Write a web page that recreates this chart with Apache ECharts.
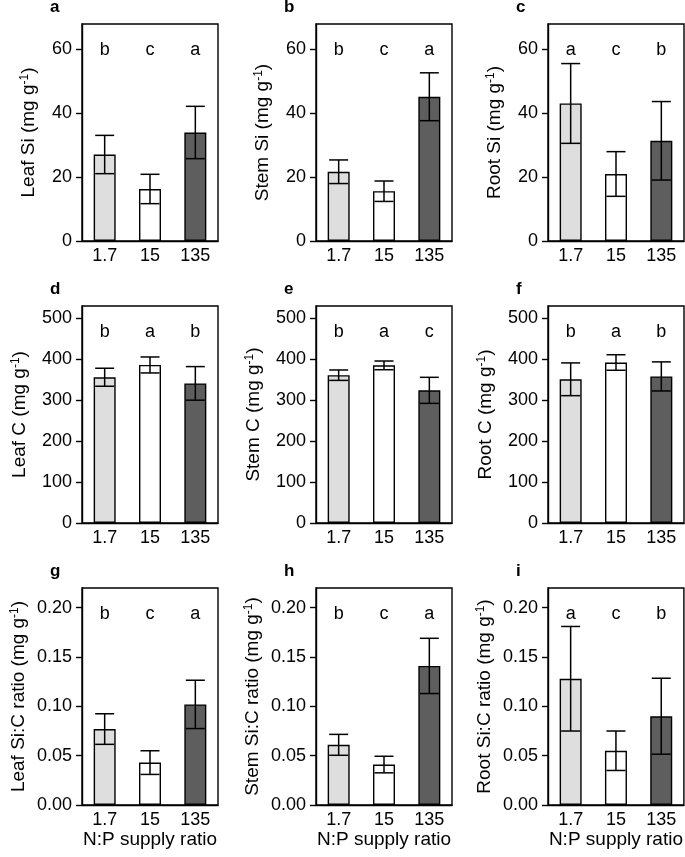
<!DOCTYPE html>
<html><head><meta charset="utf-8">
<script src="https://cdn.jsdelivr.net/npm/echarts@6/dist/echarts.min.js"></script>
<style>html,body{margin:0;padding:0;background:#fff}#c{width:685px;height:857px}</style>
</head><body><div id="c"></div>
<script>
// ---- data ----
const categories = ['1.7', '15', '135'];

const leafSi = [27.1, 16.3, 34.0];
const leafSiErr = [6.0, 4.6, 8.2];
const stemSi = [21.7, 15.6, 45.2];
const stemSiErr = [3.7, 3.2, 7.5];
const rootSi = [43.1, 21.0, 31.4];
const rootSiErr = [12.5, 7.0, 12.3];

const leafC = [356, 386, 341];
const leafCErr = [22, 19.5, 41];
const stemC = [361, 385, 324];
const stemCErr = [12.7, 10.6, 31.8];
const rootC = [351, 392, 358];
const rootCErr = [40, 19, 35.5];

const leafSiC = [0.077, 0.043, 0.102];
const leafSiCErr = [0.0155, 0.012, 0.0245];
const stemSiC = [0.061, 0.041, 0.141];
const stemSiCErr = [0.0106, 0.0084, 0.028];
const rootSiC = [0.128, 0.055, 0.090];
const rootSiCErr = [0.053, 0.020, 0.0385];

const lettersA = ['b', 'c', 'a'];
const lettersB = ['b', 'c', 'a'];
const lettersC = ['a', 'c', 'b'];
const lettersD = ['b', 'a', 'b'];
const lettersE = ['b', 'a', 'c'];
const lettersF = ['b', 'a', 'b'];
const lettersG = ['b', 'c', 'a'];
const lettersH = ['b', 'c', 'a'];
const lettersI = ['a', 'c', 'b'];

const panelLabels = ['a', 'b', 'c', 'd', 'e', 'f', 'g', 'h', 'i'];
const yNames = ['Leaf Si', 'Stem Si', 'Root Si', 'Leaf C', 'Stem C', 'Root C',
  'Leaf Si:C ratio', 'Stem Si:C ratio', 'Root Si:C ratio'];
const xName = 'N:P supply ratio';

const ticksSi = [0, 20, 40, 60];
const ticksC = [0, 100, 200, 300, 400, 500];
const ticksRatio = [0, 0.05, 0.10, 0.15, 0.20];
const maxSi = 68, maxC = 530, maxRatio = 0.22;

// ---- layout & style ----
const FONT = '"Liberation Sans", Arial, Helvetica, sans-serif';
const fills = ['#dedede', '#ffffff', '#5e5e5e'];
const colLeft = [82, 316, 548];
const rowTop = [24, 306, 588];
const W = 136, H = 217;
const rowCfg = [
  { max: maxSi, ticks: ticksSi, dec: 0, gap: 44 },
  { max: maxC, ticks: ticksC, dec: 0, gap: 53 },
  { max: maxRatio, ticks: ticksRatio, dec: 2, gap: 54 }
];
const means = [leafSi, stemSi, rootSi, leafC, stemC, rootC, leafSiC, stemSiC, rootSiC];
const errs = [leafSiErr, stemSiErr, rootSiErr, leafCErr, stemCErr, rootCErr, leafSiCErr, stemSiCErr, rootSiCErr];
const letters = [lettersA, lettersB, lettersC, lettersD, lettersE, lettersF, lettersG, lettersH, lettersI];

const grids = [], xAxes = [], yAxes = [], series = [], titles = [];

for (let p = 0; p < 9; p++) {
  const r = Math.floor(p / 3), c = p % 3;
  const cfg = rowCfg[r];
  grids.push({ left: colLeft[c], top: rowTop[r], width: W, height: H, show: true,
    borderColor: '#000', borderWidth: 1.4, backgroundColor: 'transparent', containLabel: false });
  titles.push({ text: panelLabels[p], left: colLeft[c] - 32, top: rowTop[r] - 25, padding: 0,
    textStyle: { fontFamily: FONT, fontWeight: 'bold', fontSize: 17, color: '#000' } });
  xAxes.push({
    gridIndex: p, type: 'category', data: categories,
    axisLine: { show: true, lineStyle: { color: '#000', width: 1.4 } },
    axisTick: { show: false },
    axisLabel: { color: '#000', fontFamily: FONT, fontSize: 18, margin: 6 },
    name: r === 2 ? xName : '', nameLocation: 'middle', nameGap: 25,
    nameTextStyle: { color: '#000', fontFamily: FONT, fontSize: 19 },
    splitLine: { show: false }
  });
  yAxes.push({
    gridIndex: p, type: 'value', min: 0, max: cfg.max,
    axisLine: { show: true, lineStyle: { color: '#000', width: 1.4 } },
    axisTick: { show: true, length: 6, inside: false, customValues: cfg.ticks, lineStyle: { color: '#000', width: 1.4 } },
    axisLabel: { color: '#000', fontFamily: FONT, fontSize: 18, margin: 10, customValues: cfg.ticks,
      formatter: v => v.toFixed(cfg.dec) },
    splitLine: { show: false },
    name: yNames[p] + ' (mg g{sup|-1})', nameLocation: 'middle', nameRotate: 90, nameGap: cfg.gap,
    nameTextStyle: { color: '#000', fontFamily: FONT, fontSize: 19,
      rich: { sup: { fontSize: 12, fontFamily: FONT, color: '#000', verticalAlign: 'top' } } }
  });
  const m = means[p], e = errs[p], L = letters[p];
  series.push({
    type: 'bar', xAxisIndex: p, yAxisIndex: p, barWidth: 22, z: 2,
    data: m.map((v, i) => ({ value: v, itemStyle: { color: fills[i] } })),
    itemStyle: { borderColor: '#000', borderWidth: 1.4 },
    emphasis: { disabled: true }, animation: false
  });
  series.push({
    type: 'custom', xAxisIndex: p, yAxisIndex: p, z: 5, animation: false,
    data: m.map((v, i) => [i, v, e[i]]),
    encode: { x: 0, y: 1 },
    renderItem: (params, api) => {
      const x = api.value(0), mv = api.value(1), ev = api.value(2);
      const top = api.coord([x, mv + ev]), bot = api.coord([x, mv - ev]);
      const hw = 9.5;
      const st = { stroke: '#000', lineWidth: 1.5 };
      return { type: 'group', children: [
        { type: 'line', shape: { x1: top[0], y1: top[1], x2: bot[0], y2: bot[1] }, style: st },
        { type: 'line', shape: { x1: top[0] - hw, y1: top[1], x2: top[0] + hw, y2: top[1] }, style: st },
        { type: 'line', shape: { x1: bot[0] - hw, y1: bot[1], x2: bot[0] + hw, y2: bot[1] }, style: st }
      ] };
    }
  });
  series.push({
    type: 'custom', xAxisIndex: p, yAxisIndex: p, z: 6, animation: false, clip: false,
    data: m.map((v, i) => [i, cfg.max * 0.88]),
    encode: { x: 0, y: 1 },
    renderItem: (params, api) => {
      const pt = api.coord([api.value(0), api.value(1)]);
      return { type: 'text', x: pt[0], y: pt[1], style: { text: L[params.dataIndex], fill: '#000',
        fontSize: 18, fontFamily: FONT, align: 'center', verticalAlign: 'middle' } };
    }
  });
}

const chart = echarts.init(document.getElementById('c'), null, { renderer: 'canvas' });
chart.setOption({
  backgroundColor: '#fff', animation: false,
  title: titles, grid: grids, xAxis: xAxes, yAxis: yAxes, series: series,
  tooltip: { show: false }
});
</script></body></html>
